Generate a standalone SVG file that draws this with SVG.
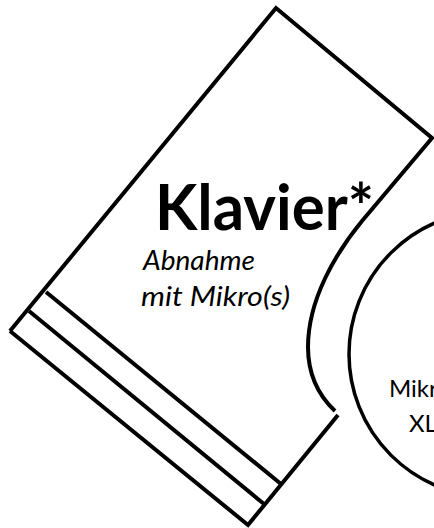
<svg xmlns="http://www.w3.org/2000/svg" width="434" height="528" viewBox="0 0 434 528">
  <style>
    .outline { fill: none; stroke: #000; stroke-width: 4; stroke-linejoin: miter; }
    .circle { fill: none; stroke: #000; stroke-width: 3.5; }
    .title { font-family: Lato, "Liberation Sans", sans-serif; font-weight: 700; font-size: 64px; fill: #000; }
    .sub { font-family: Lato, "Liberation Sans", sans-serif; font-style: italic; font-size: 27px; fill: #000; }
    .label { font-family: Lato, "Liberation Sans", sans-serif; font-size: 24px; fill: #000; }
  </style>
  <rect width="434" height="528" fill="#fff"/>
  <g id="klavier">
    <path class="outline" d="M10,331 L276,8 L432,138 L362,221 C335,254 308,300 308,347 C308,375 318,395 335,411"/>
    <path class="outline" d="M338,415 L248,525 L10,331"/>
    <line class="outline" x1="46" y1="292" x2="281" y2="484"/>
    <line class="outline" x1="29" y1="311" x2="264" y2="504"/>
    <text class="title" x="155" y="230" textLength="219" lengthAdjust="spacingAndGlyphs">Klavier*</text>
    <text class="sub" x="143" y="270" textLength="112" lengthAdjust="spacingAndGlyphs">Abnahme</text>
    <text class="sub" x="141" y="306" textLength="149" lengthAdjust="spacingAndGlyphs">mit Mikro(s)</text>
  </g>
  <g id="mikro">
    <circle class="circle" cx="492" cy="354" r="143"/>
    <text class="label" x="389" y="397">Mikr</text>
    <text class="label" x="409" y="432">XL</text>
  </g>
  <g id="connectors"/>
</svg>
